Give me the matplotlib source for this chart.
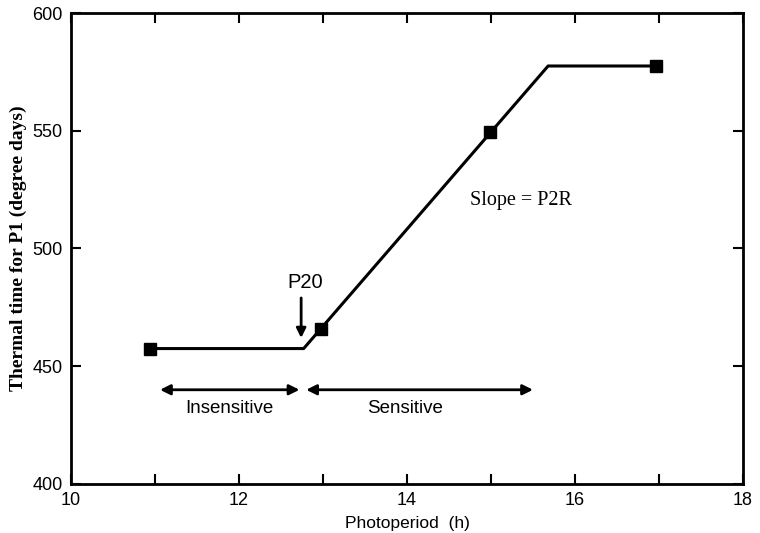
import numpy as np
import matplotlib.pyplot as plt

# Observed data points
obs_x = [10.94, 12.98, 14.99, 16.96]
obs_y = [457.5, 466.0, 549.5, 577.5]

# Piecewise-linear model (flat, sloped, flat)
model_x = [10.94, 12.77, 15.68, 16.96]
model_y = [457.5, 457.5, 577.5, 577.5]

x_ticks = [10, 12, 14, 16, 18]
x_minor = [11, 13, 15, 17]
y_ticks = [400, 450, 500, 550, 600]

p20_x = 12.74
arrow_y = 440.0
insens_range = (11.06, 12.72)
sens_range = (12.80, 15.50)


def main():
    fig = plt.figure(figsize=(7.6, 5.33), dpi=100)
    ax = fig.add_axes([0.0934, 0.092, 0.8842, 0.8836])
    sans = ['Liberation Sans', 'DejaVu Sans']
    serif = ['Liberation Serif', 'DejaVu Serif']

    ax.plot(model_x, model_y, color='black', linewidth=2.2)
    ax.plot(obs_x, obs_y, 's', color='black', markersize=9)

    # Insensitive / sensitive ranges
    arrow_kw = dict(arrowstyle='<|-|>', color='black', lw=2,
                    mutation_scale=15, shrinkA=0, shrinkB=0)
    ax.annotate('', xy=(insens_range[0], arrow_y), xytext=(insens_range[1], arrow_y),
                arrowprops=arrow_kw)
    ax.annotate('', xy=(sens_range[0], arrow_y), xytext=(sens_range[1], arrow_y),
                arrowprops=arrow_kw)
    ax.text(11.88, 432, 'Insensitive', ha='center', va='center', fontsize=13.5, family=sans)
    ax.text(13.98, 432, 'Sensitive', ha='center', va='center', fontsize=13.5, family=sans)

    # P20 marker
    ax.annotate('', xy=(p20_x, 462.0), xytext=(p20_x, 479.0),
                arrowprops=dict(arrowstyle='-|>', color='black', lw=2,
                                mutation_scale=14, shrinkA=0, shrinkB=0))
    ax.text(12.79, 485.5, 'P20', ha='center', va='center', fontsize=14.5, family=sans)

    ax.text(14.75, 520.5, 'Slope = P2R', ha='left', va='center', fontsize=14.5,
            family=serif)

    ax.set_xlim(10, 18)
    ax.set_ylim(400, 600)
    ax.set_xticks(x_ticks)
    ax.set_xticks(x_minor, minor=True)
    ax.set_yticks(y_ticks)
    ax.tick_params(which='both', direction='in', top=True, right=True, width=1.5)
    ax.tick_params(which='major', length=7, labelsize=13, pad=6)
    ax.tick_params(which='minor', length=7)
    for lbl in ax.get_xticklabels() + ax.get_yticklabels():
        lbl.set_family(sans)
    for s in ax.spines.values():
        s.set_linewidth(2)

    ax.set_xlabel('Photoperiod  (h)', fontsize=12.5, family=sans, labelpad=5)
    ax.set_ylabel('Thermal time for P1 (degree days)', fontsize=14, family=serif,
                  fontweight='bold', labelpad=4)

    fig.savefig('out.png', dpi=100)


if __name__ == '__main__':
    main()
